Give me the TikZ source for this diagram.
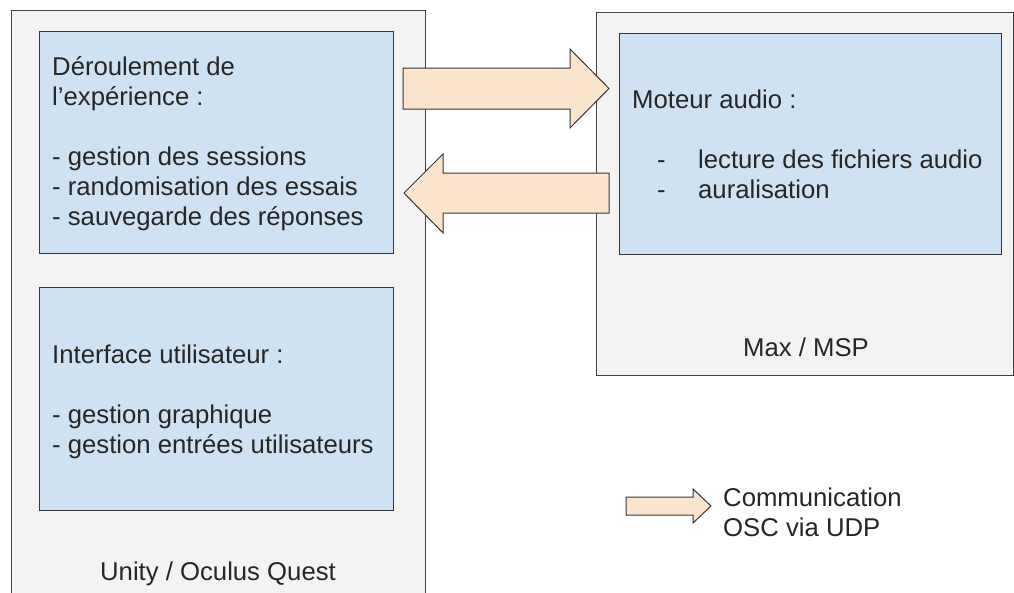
\documentclass[tikz,border=0pt]{standalone}
\usepackage{fontspec}
\setmainfont{Liberation Sans}
\usetikzlibrary{positioning}
\definecolor{panel}{HTML}{F3F3F3}
\definecolor{edge}{HTML}{434343}
\definecolor{lblue}{HTML}{CFE2F3}
\definecolor{peach}{HTML}{FCE5CD}

\begin{document}
\begin{tikzpicture}[
  x=1pt, y=-1pt,
  host/.style={draw=edge, fill=panel, line width=1.2pt, anchor=north west, inner sep=0pt},
  block/.style={draw=edge!80!black, fill=lblue, line width=1pt, anchor=north west, inner sep=0pt},
  flow/.style={draw=edge!80!black, fill=peach, line width=1pt, line join=miter},
  txt/.style={anchor=base west, align=left, inner sep=0pt,
              font=\fontsize{25.7}{30}\selectfont, text=black!85},
  hostlabel/.style={anchor=base, inner sep=0pt, font=\fontsize{25.7}{30}\selectfont, text=black!85},
]
\clip (0,0) rectangle (1014,592);
\fill[white] (0,0) rectangle (1014,592);

% hosts
\node[host, minimum width=414pt, minimum height=600pt] (unity) at (11,10) {};
\node[host, minimum width=417pt, minimum height=363pt] (max) at (596,12) {};

% blocks
\node[block, minimum width=354pt, minimum height=222pt] (exp) at (39,31) {};
\node[block, minimum width=354pt, minimum height=223pt] (ui)  at (39,287) {};
\node[block, minimum width=382pt, minimum height=221pt] (audio) at (619,33) {};

\node[txt] (exptxt) at (52,225) {Déroulement de\\l’expérience :\\ \\- gestion des sessions\\- randomisation des essais\\- sauvegarde des réponses};
\node[txt] (uitxt) at (52,453) {Interface utilisateur :\\ \\- gestion graphique\\- gestion entrées utilisateurs};
\node[txt] (audiotxt) at (632,198) {Moteur audio :\\ \\\hspace*{25pt}\makebox[41pt][l]{-}lecture des fichiers audio\\\hspace*{25pt}\makebox[41pt][l]{-}auralisation};

\node[hostlabel] (unitycap) at (218,580) {Unity / Oculus Quest};
\node[hostlabel] (maxcap) at (806,356) {Max / MSP};

% OSC arrows
\draw[flow] (403,68) -- (570,68) -- (570,49) -- (609,88.5) -- (570,128) -- (570,109) -- (403,109) -- cycle;
\draw[flow] (609,173) -- (443,173) -- (443,154) -- (404,193) -- (443,233) -- (443,213) -- (609,213) -- cycle;

% legend
\draw[flow] (626,497) -- (693,497) -- (693,489) -- (711,506) -- (693,523) -- (693,515) -- (626,515) -- cycle;
\node[txt] (legtxt) at (723,536) {Communication\\OSC via UDP};

\end{tikzpicture}
\end{document}
